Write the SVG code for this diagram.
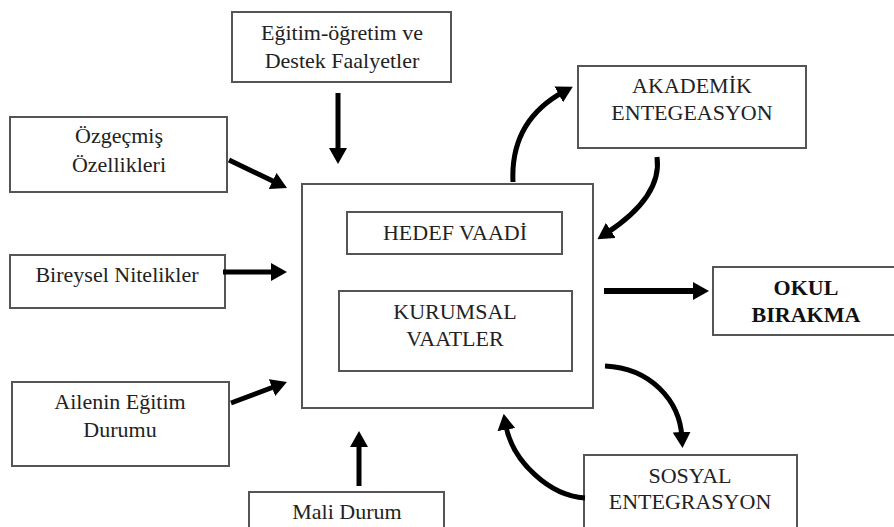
<svg xmlns="http://www.w3.org/2000/svg" width="894" height="527" viewBox="0 0 894 527" font-family="Liberation Serif, Times New Roman, serif">
<style>
.box{fill:#fff;stroke:#555;stroke-width:2}
.t{font-size:22px;fill:#222;text-anchor:middle}
.b{font-weight:bold;fill:#111}
.a{fill:none;stroke:#000;stroke-width:5;marker-end:url(#ah)}
</style>
<defs>
<marker id="ah" markerUnits="userSpaceOnUse" markerWidth="16" markerHeight="18" refX="6" refY="9" orient="auto">
<path d="M0,0 L16,9 L0,18 z" fill="#000"/>
</marker>
</defs>
<rect width="894" height="527" fill="#fff"/>
<g id="egitim"><rect class="box" x="232" y="12" width="219" height="70"/><text class="t" x="342" y="40">Eğitim-öğretim ve</text><text class="t" x="342" y="68">Destek Faalyetler</text></g>
<g id="ozgecmis"><rect class="box" x="10" y="117" width="217" height="75"/><text class="t" x="119" y="143">Özgeçmiş</text><text class="t" x="119" y="172">Özellikleri</text></g>
<g id="bireysel"><rect class="box" x="10" y="255" width="215" height="53"/><text class="t" x="117" y="282">Bireysel Nitelikler</text></g>
<g id="ailenin"><rect class="box" x="12" y="382" width="217" height="84"/><text class="t" x="120" y="409">Ailenin Eğitim</text><text class="t" x="120" y="437">Durumu</text></g>
<g id="mali"><rect class="box" x="249" y="492" width="195" height="40"/><text class="t" x="347" y="519">Mali Durum</text></g>
<g id="merkez"><rect class="box" x="302" y="184" width="291" height="224"/>
<g id="hedef"><rect class="box" x="347" y="212" width="215" height="42"/><text class="t" x="455" y="240">HEDEF VAADİ</text></g>
<g id="kurumsal"><rect class="box" x="339" y="291" width="233" height="80"/><text class="t" x="455" y="319">KURUMSAL</text><text class="t" x="455" y="346">VAATLER</text></g>
</g>
<g id="akademik"><rect class="box" x="578" y="66" width="228" height="82"/><text class="t" x="692" y="93">AKADEMİK</text><text class="t" x="692" y="120">ENTEGEASYON</text></g>
<g id="okul"><rect class="box" x="713" y="267" width="182" height="68"/><text class="t b" x="806" y="295">OKUL</text><text class="t b" x="806" y="322">BIRAKMA</text></g>
<g id="sosyal"><rect class="box" x="584" y="455" width="213" height="80"/><text class="t" x="690" y="483">SOSYAL</text><text class="t" x="690" y="509">ENTEGRASYON</text></g>
<g id="connectors">
<path class="a" d="M338,93 L338,154"/>
<path class="a" d="M229,160 L278,183.6"/>
<path class="a" d="M223,272 L277,272"/>
<path class="a" d="M231,403 L277.6,385.5"/>
<path class="a" d="M359,486 L359,441"/>
<path class="a" style="stroke-width:6" d="M604,291 L699,291"/>
<path class="a" d="M513,182 C511,140 530,110 564,91.5"/>
<path class="a" d="M657,157 C661,185 642,210 605.8,233.7"/>
<path class="a" d="M605,366 C650,368 680,400 682,438"/>
<path class="a" d="M585,498 C550,496 512,462 505.4,423.7"/>
</g>
</svg>
